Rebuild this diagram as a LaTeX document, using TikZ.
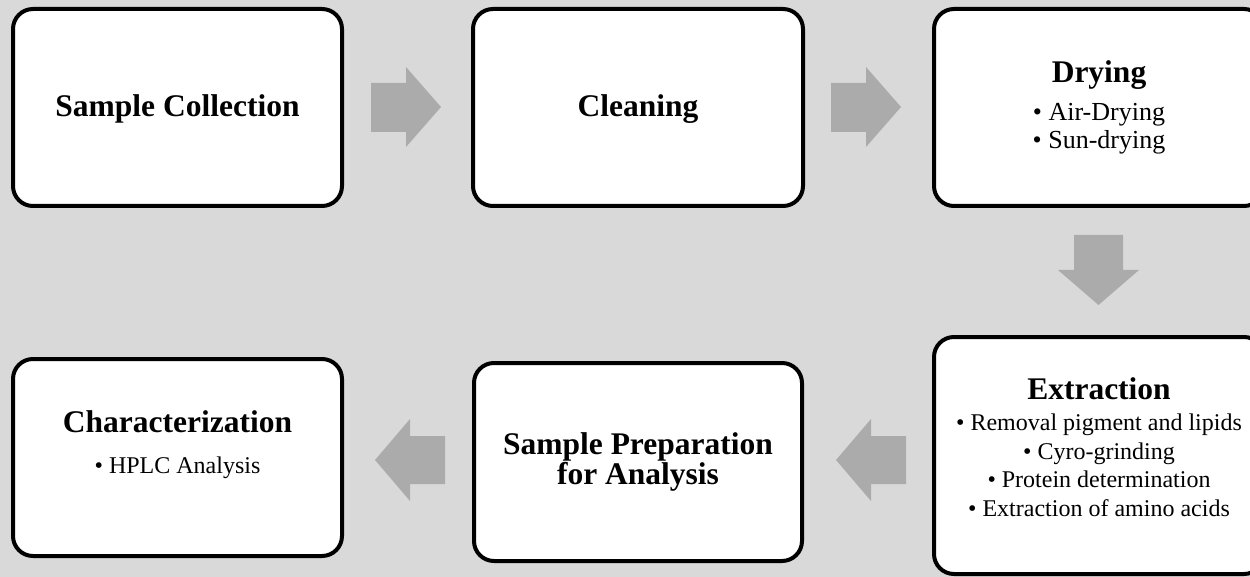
\documentclass[tikz,border=0pt]{standalone}
\usepackage{fontspec}
\setmainfont{Liberation Serif}
\definecolor{bgc}{HTML}{D9D9D9}
\definecolor{arrc}{HTML}{ABABAB}
\newcommand\boxtitle{\fontsize{31.5}{30}\selectfont\bfseries}
\newcommand\boxbody{\fontsize{24}{28.5}\selectfont}
\begin{document}
\begin{tikzpicture}[x=1pt,y=-1pt,
  stage/.style={draw=black, line width=4pt, fill=white, rounded corners=20pt, inner sep=0pt},
  stagetext/.style={align=center, inner sep=0pt, font=\boxbody},
  blockarrow/.style={fill=arrc, draw=none}]
\useasboundingbox (0,0) rectangle (1250,577);
\fill[bgc] (0,0) rectangle (1250,577);
\clip (0,0) rectangle (1250,577);

\node[stage, minimum width=329pt, minimum height=197pt] (b1) at (177.5,107.5) {};
\node[stage, minimum width=330pt, minimum height=197pt] (b2) at (638,107.5) {};
\node[stage, minimum width=330pt, minimum height=197pt] (b3) at (1099,107.5) {};
\node[stage, minimum width=330pt, minimum height=237pt] (b6) at (1099,455.5) {};
\node[stage, minimum width=328pt, minimum height=198pt] (b5) at (638,462) {};
\node[stage, minimum width=329pt, minimum height=197pt] (b4) at (177.5,457.5) {};

\node[stagetext, anchor=base] (t1) at (177.5,117) {\boxtitle Sample Collection};
\node[stagetext, anchor=base] (t2) at (638,117) {\boxtitle Cleaning};
\node[stagetext, font=\fontsize{26}{28}\selectfont] (t3) at (b3.center)
  {{\boxtitle Drying}\\[10pt] • Air-Drying\\ • Sun-drying};
\node[stagetext] (t6) at (1099,447)
  {{\boxtitle Extraction}\\[3pt] • Removal pigment and lipids\\ • Cyro-grinding\\ • Protein determination\\ • Extraction of amino acids};
\node[stagetext, font=\boxtitle] (t5) at (b5.center)
  {Sample Preparation\\ for Analysis};
\node[stagetext] (t4) at (177.5,444.5)
  {{\boxtitle Characterization}\\[12pt] • HPLC Analysis};

% block arrows
\fill[blockarrow] (371,83) -- (406,83) -- (406,67) -- (441,107) -- (406,147) -- (406,132) -- (371,132) -- cycle;
\fill[blockarrow] (831,83) -- (866,83) -- (866,67) -- (901,107) -- (866,147) -- (866,132) -- (831,132) -- cycle;
\fill[blockarrow] (1074,235) -- (1123,235) -- (1123,270) -- (1139,270) -- (1098.5,305) -- (1058,270) -- (1074,270) -- cycle;
\fill[blockarrow] (906,436) -- (871,436) -- (871,419) -- (836,460) -- (871,501) -- (871,484) -- (906,484) -- cycle;
\fill[blockarrow] (445,436) -- (410,436) -- (410,419) -- (375,460) -- (410,501) -- (410,484) -- (445,484) -- cycle;
\end{tikzpicture}
\end{document}
